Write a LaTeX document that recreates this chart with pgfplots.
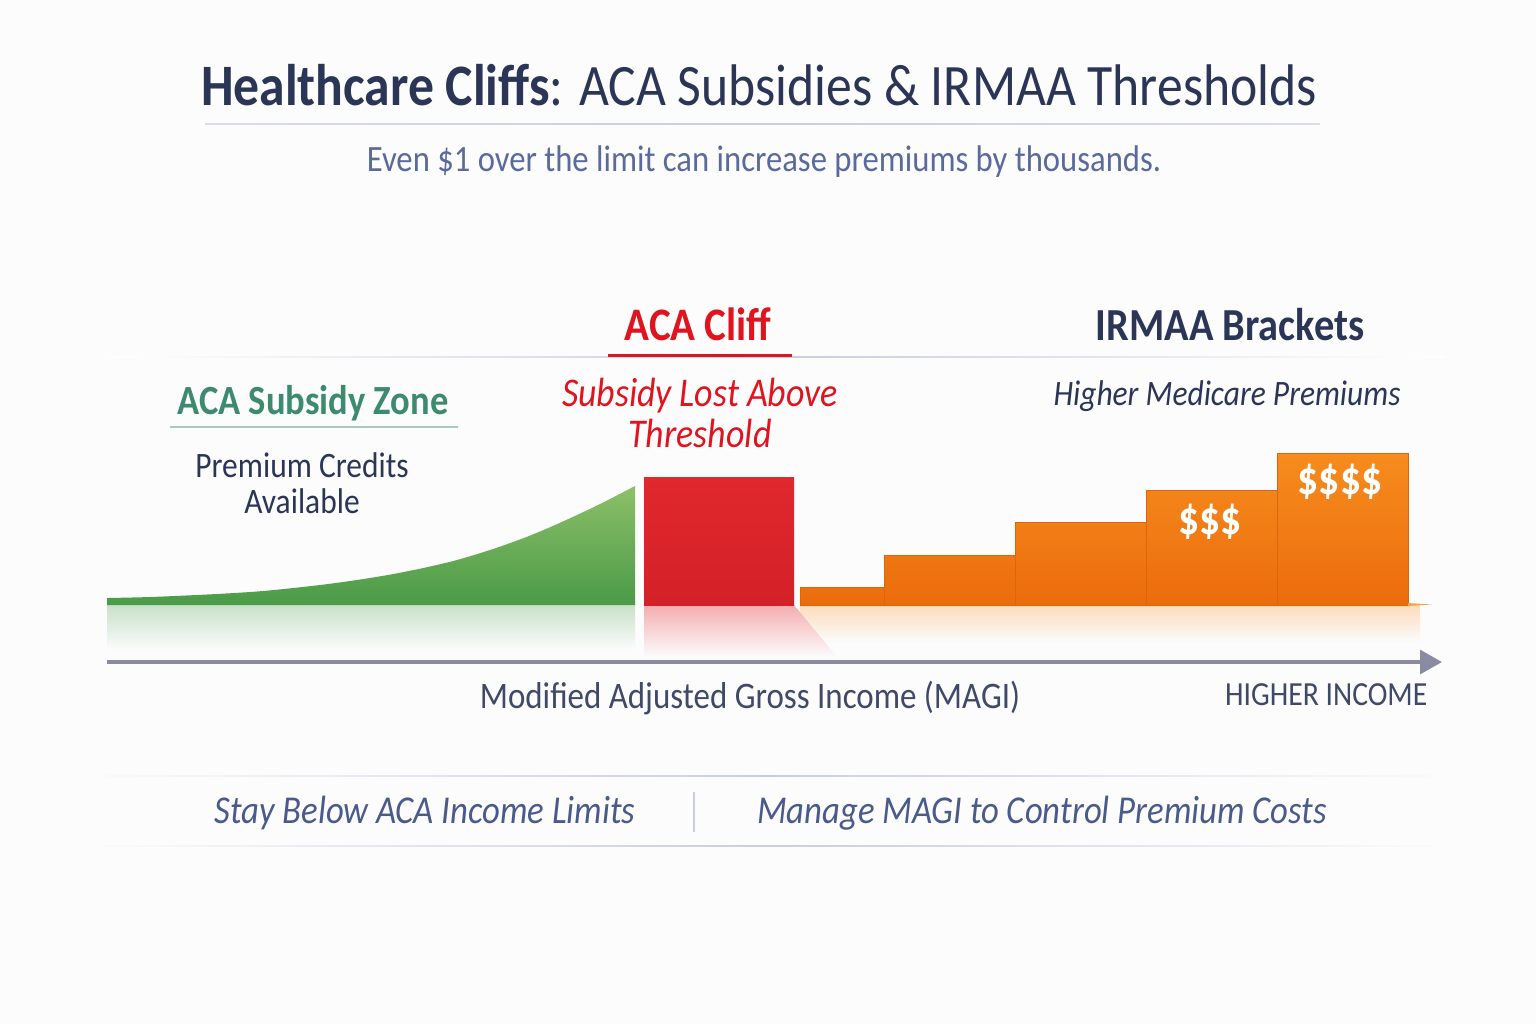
\documentclass[border=0pt]{standalone}
\usepackage{fontspec}
\setmainfont{Carlito}[FakeStretch=0.88]
\usepackage{pgfplots}
\usepackage{pgfplotstable}
\pgfplotsset{compat=1.18}
\usetikzlibrary{arrows.meta}
\tikzset{every node/.append style={inner sep=0pt}}

\definecolor{navy}{HTML}{2B3556}
\definecolor{slate}{HTML}{5A6A9A}
\definecolor{slatedk}{HTML}{4A5A8A}
\definecolor{teal}{HTML}{3D8A6F}
\definecolor{redtxt}{HTML}{E0141E}
\definecolor{redbar}{HTML}{E0282E}
\definecolor{redbardk}{HTML}{D42027}
\definecolor{grnTop}{HTML}{8CC068}
\definecolor{grnBot}{HTML}{4A9A47}
\definecolor{orTop}{HTML}{F68C1E}
\definecolor{orBot}{HTML}{EC6C0C}
\definecolor{orEdge}{HTML}{DC660C}
\definecolor{axisgray}{HTML}{8A8AA2}
\definecolor{rule}{HTML}{C9CEDC}
\definecolor{bg}{HTML}{FCFCFD}

% subsidy value curve (x in px, height above the baseline)
\pgfplotstableread{
x h
107 7
150 8
207 10.5
250 13
279 15.5
320 20
350 24
385 29.5
421 36.5
457 45
493 56
529 69
564 84
600 101
635 119
}\subsidy

% IRMAA brackets: left edge and premium level (last row closes the interval)
\pgfplotstableread{
x h
800 18
884 50
1015 83
1146 115
1277 152
1408 152
}\irmaa

% ACA cliff block
\pgfplotstableread{
x h
644 128
794 128
}\cliff

\begin{document}
\begin{tikzpicture}
\begin{axis}[
  scale only axis, width=16cm, height=10.6667cm,
  xmin=0, xmax=1536, ymin=-419, ymax=605,
  axis lines=none, xtick=\empty, ytick=\empty,
  clip=false,
]
% background
\fill[bg] (0,-419) rectangle (1536,605);

% ---- title block
\node[anchor=base, text=navy, font=\fontsize{17.4}{20}\selectfont] at (759,500)
  {{\bfseries Healthcare Cliffs}: ACA Subsidies \& IRMAA Thresholds};
\fill[left color=rule!70, right color=rule!70, middle color=rule] (205,480.3) rectangle (1320,481.7);
\node[anchor=base, text=slate, font=\fontsize{11}{13}\selectfont] at (764,434)
  {Even \$1 over the limit can increase premiums by thousands.};

% ---- section headers
\fill[left color=white, right color=white, middle color=rule] (110,247.3) rectangle (1445,248.7);
\node[anchor=base, text=redtxt, font=\fontsize{13.8}{16}\selectfont\bfseries] at (698,265) {ACA Cliff};
\fill[redtxt] (608,248) rectangle (792,251);
\node[anchor=base, text=navy, font=\fontsize{13.6}{16}\selectfont\bfseries] at (1230,265) {IRMAA Brackets};

\node[anchor=base, text=teal, font=\fontsize{12.3}{15}\selectfont\bfseries] at (313,191) {ACA Subsidy Zone};
\fill[teal!45] (170,177.3) rectangle (458,178.7);
\node[anchor=base, text=navy, font=\fontsize{10.6}{13}\selectfont] at (302,128) {Premium Credits};
\node[anchor=base, text=navy, font=\fontsize{10.6}{13}\selectfont] at (302,92) {Available};

\node[anchor=base, text=redtxt, font=\fontsize{12.1}{15}\selectfont\itshape] at (700,199) {Subsidy Lost Above};
\node[anchor=base, text=redtxt, font=\fontsize{12.1}{15}\selectfont\itshape] at (700,158) {Threshold};

\node[anchor=base, text=navy, font=\fontsize{10.6}{13}\selectfont\itshape] at (1227,200) {Higher Medicare Premiums};

% ---- reflections under the baseline
\addplot[draw=none, top color=grnBot!30, bottom color=bg, forget plot]
  coordinates {(107,0) (635,0) (635,-45) (107,-45)};
\addplot[draw=none, top color=orTop!30, bottom color=bg, forget plot]
  coordinates {(800,0) (1420,0) (1420,-38) (800,-38)};
\addplot[draw=none, top color=redbar!38, bottom color=bg, forget plot]
  coordinates {(644,0) (794,0) (837,-52) (644,-52)};

% ---- subsidy zone
\addplot[draw=none, smooth, tension=0.5, top color=grnTop, bottom color=grnBot]
  table[x=x, y=h] {\subsidy} \closedcycle;

% ---- cliff
\addplot[ybar interval, draw=none, top color=redbar, bottom color=redbardk] table[x=x, y=h] {\cliff};

% ---- IRMAA brackets
\addplot[ybar interval, draw=orEdge, line width=0.3pt, top color=orTop, bottom color=orBot] table[x=x, y=h] {\irmaa};
\fill[orTop!80] (1408,-1) -- (1432,0.5) -- (1408,2) -- cycle;

\node[text=white, font=\fontsize{14}{16}\selectfont\bfseries] at (1210,83) {\$\$\$};
\node[text=white, font=\fontsize{14}{16}\selectfont\bfseries] at (1340,123) {\$\$\$\$};

% ---- income axis
\draw[axisgray, line width=1.2pt, -{Triangle[length=6.5pt, width=7pt]}] (107,-57) -- (1442,-57);
\node[anchor=base, text=navy!90, font=\fontsize{11.1}{14}\selectfont] at (750,-103)
  {Modified Adjusted Gross Income (MAGI)};
\node[anchor=base east, text=navy!90, font=\fontsize{10}{12}\selectfont] at (1428,-100)
  {HIGHER INCOME};

% ---- takeaways
\fill[left color=bg, right color=bg, middle color=rule] (80,-170.3) rectangle (1455,-171.7);
\fill[left color=bg, right color=bg, middle color=rule] (80,-240.3) rectangle (1455,-241.7);
\node[anchor=base, text=slatedk, font=\fontsize{11.7}{15}\selectfont\itshape] at (425,-218)
  {Stay Below ACA Income Limits};
\draw[rule, line width=0.6pt] (694,-187) -- (694,-227);
\node[anchor=base, text=slatedk, font=\fontsize{11.7}{15}\selectfont\itshape] at (1042,-218)
  {Manage MAGI to Control Premium Costs};
\end{axis}
\end{tikzpicture}
\end{document}
